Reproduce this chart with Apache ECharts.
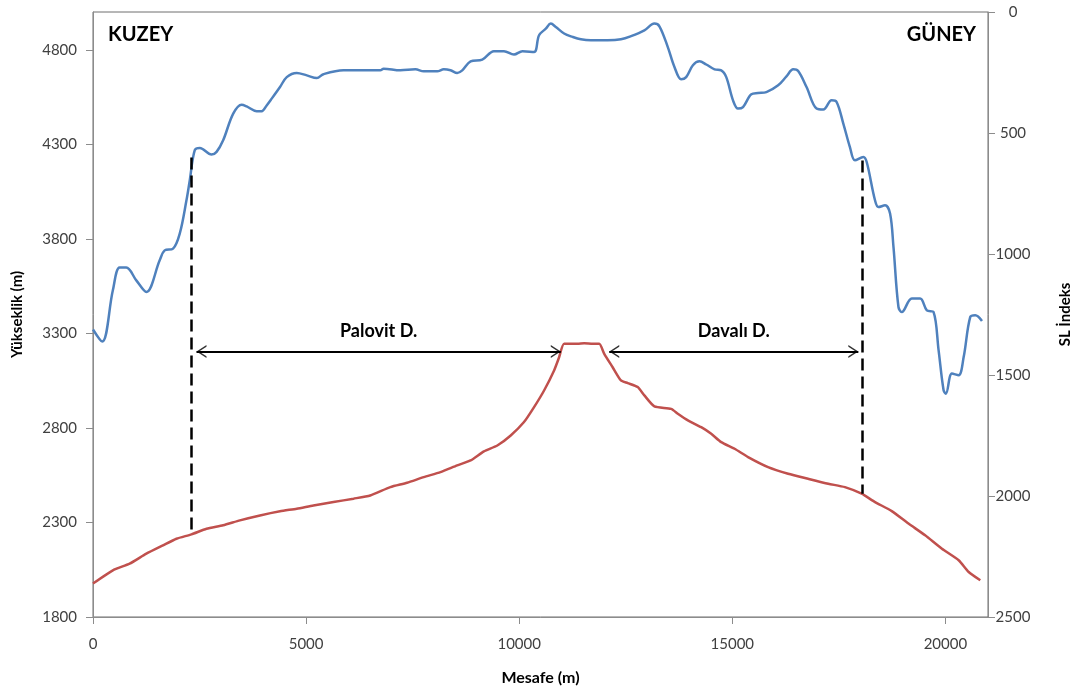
<!DOCTYPE html>
<html>
<head>
<meta charset="utf-8">
<script src="https://cdn.jsdelivr.net/npm/echarts@6/dist/echarts.min.js"></script>
<style>
html,body{margin:0;padding:0;background:#fff;}
#chart{width:1079px;height:693px;}
</style>
</head>
<body>
<div id="chart"></div>
<script>
// SL index profile (blue, right inverted axis)
const slDistance = [0,216,466,624,781,1016,1252,1565,1682,1878,2035,2193,2271,2388,2506,2781,2899,3054,3290,3487,3605,3840,3958,4075,4193,4388,4546,4781,5017,5252,5407,5878,6741,6819,7212,7565,7760,8076,8231,8389,8546,8664,8860,9134,9407,9643,9878,10076,10349,10466,10624,10742,10859,11054,11252,11447,11683,12076,12388,12624,12937,13172,13290,13487,13643,13800,13918,14076,14231,14389,14584,14741,14859,15017,15134,15252,15448,15605,15800,16076,16271,16429,16546,16742,16977,17135,17330,17448,17605,17760,17878,18076,18154,18349,18429,18584,18702,18782,18899,18977,19212,19408,19565,19723,19841,19958,20012,20153,20311,20429,20584,20702,20859];
const slIndex = [1312,1362,1150,1056,1056,1109,1157,1026,985,978,916,778,695,571,562,589,578,530,420,383,390,410,410,386,358,310,269,252,262,273,257,241,241,234,241,237,245,245,237,241,252,241,204,197,162,162,176,162,165,96,69,48,62,89,103,113,117,117,113,100,76,48,59,145,227,278,269,220,204,217,237,241,269,365,399,393,340,335,331,303,266,237,244,310,399,403,365,372,461,558,613,599,620,778,806,799,833,971,1219,1240,1184,1184,1233,1240,1398,1563,1577,1494,1501,1426,1260,1253,1277];

// Elevation profile (red, left axis)
const elevDistance = [0,466,859,1252,1642,1958,2311,2664,3054,3447,3918,4388,4781,5172,5643,6113,6506,6977,7370,7760,8153,8546,8859,9172,9487,9801,10113,10349,10584,10819,10937,11054,11370,11525,11723,11878,11996,12193,12388,12546,12781,12937,13172,13565,13722,13958,14271,14506,14741,15054,15370,15840,16311,16782,17252,17643,18035,18349,18742,19134,19525,19919,20312,20547,20819];
const elevation = [1977,2047,2082,2135,2179,2214,2237,2267,2285,2311,2337,2359,2373,2390,2408,2426,2443,2487,2510,2540,2566,2602,2628,2676,2707,2760,2831,2910,2998,3104,3174,3245,3245,3248,3245,3245,3192,3121,3051,3037,3016,2972,2914,2901,2875,2840,2804,2769,2725,2690,2646,2593,2558,2531,2505,2487,2452,2408,2360,2294,2232,2161,2100,2038,1994];

// Annotations (data units)
const dividerX = [2311, 18050];
const dividerTop = [4230, 4214];       // elevation units at the SL curve
const dividerBottom = [2237, 2452];
const riverNames = ['Palovit D.', 'Davalı D.'];
const riverStart = [2428, 12113];
const riverEnd = [10976, 17958];
const arrowLevel = 3204;

const xTicks = {min: 0, max: 21000, interval: 5000};
const leftTicks = {min: 1800, max: 5000, interval: 500};
const rightTicks = {min: 0, max: 2500, interval: 500};

const FONT = 'Lato, "Open Sans", sans-serif';
const axisGray = '#8c8c8c';
const labelColor = '#404040';
const plain = v => String(v);

const chart = echarts.init(document.getElementById('chart'), null, {renderer: 'canvas'});

const zip = (a, b) => a.map((v, i) => [v, b[i]]);

const chevLeft = 'path://M10,0 L0,6.5 L10,13 L10,11.2 L2.6,6.5 L10,1.8 Z';
const chevRight = 'path://M0,0 L10,6.5 L0,13 L0,11.2 L7.4,6.5 L0,1.8 Z';

const option = {
  animation: false,
  backgroundColor: '#ffffff',
  grid: {left: 93, right: 91, top: 12, bottom: 76, containLabel: false, outerBoundsMode: 'none',
         show: true, borderColor: '#6e6e6e', borderWidth: 1, backgroundColor: 'transparent'},
  xAxis: {
    type: 'value', min: xTicks.min, max: xTicks.max, interval: xTicks.interval,
    name: 'Mesafe (m)', nameLocation: 'middle', nameGap: 53,
    nameTextStyle: {fontFamily: FONT, fontWeight: 'bold', fontSize: 16, color: '#000'},
    axisLine: {show: true, onZero: false, lineStyle: {color: axisGray, width: 1}},
    axisTick: {show: true, inside: false, length: 7, lineStyle: {color: axisGray}},
    axisLabel: {fontFamily: FONT, fontSize: 15, color: labelColor, margin: 20, showMaxLabel: false, formatter: plain},
    splitLine: {show: false}
  },
  yAxis: [
    {
      type: 'value', position: 'left', min: leftTicks.min, max: leftTicks.max, interval: leftTicks.interval,
      name: 'Yükseklik (m)', nameLocation: 'middle', nameGap: 68, nameRotate: 90,
      nameTextStyle: {fontFamily: FONT, fontWeight: 'bold', fontSize: 15, color: '#000'},
      axisLine: {show: true, lineStyle: {color: axisGray, width: 1}},
      axisTick: {show: true, length: 7, lineStyle: {color: axisGray}},
      axisLabel: {fontFamily: FONT, fontSize: 15, color: labelColor, margin: 16, showMaxLabel: false, formatter: plain},
      splitLine: {show: false}
    },
    {
      type: 'value', position: 'right', inverse: true, min: rightTicks.min, max: rightTicks.max, interval: rightTicks.interval,
      name: 'SL İndeks', nameLocation: 'middle', nameGap: 70, nameRotate: 90,
      nameTextStyle: {fontFamily: FONT, fontWeight: 'bold', fontSize: 15, color: '#000'},
      axisLine: {show: true, lineStyle: {color: axisGray, width: 1}},
      axisTick: {show: true, length: 7, lineStyle: {color: axisGray}},
      axisLabel: {fontFamily: FONT, fontSize: 15, color: labelColor, margin: 25, align: 'center', formatter: plain},
      splitLine: {show: false}
    }
  ],
  series: [
    {
      name: 'SL İndeks', type: 'line', yAxisIndex: 1, data: zip(slDistance, slIndex),
      showSymbol: false, smooth: 0.35, lineStyle: {color: '#4f81bd', width: 2.5}, z: 3
    },
    {
      name: 'Yükseklik', type: 'line', yAxisIndex: 0, data: zip(elevDistance, elevation),
      showSymbol: false, smooth: 0.2, lineStyle: {color: '#c0504d', width: 2.5}, z: 3,
      markLine: {
        silent: true, symbol: ['none', 'none'], animation: false,
        data: [
          ...dividerX.map((x, i) => [
            {coord: [x, dividerTop[i]], lineStyle: {type: [12, 6], color: '#000', width: 2.5}, label: {show: false}},
            {coord: [x, dividerBottom[i]]}
          ]),
          ...riverNames.map((n, i) => [
            {name: n, coord: [riverStart[i], arrowLevel], lineStyle: {type: 'solid', color: '#000', width: 2},
             label: {show: true, position: 'middle', formatter: '{b}', distance: 11,
                     fontFamily: FONT, fontWeight: 'bold', fontSize: 18, color: '#000'}},
            {coord: [riverEnd[i], arrowLevel]}
          ])
        ]
      }
    },
    {
      type: 'scatter', yAxisIndex: 0, silent: true, z: 4,
      data: riverStart.map(x => [x, arrowLevel]),
      symbol: chevLeft, symbolSize: [10, 13], symbolOffset: [5, 0],
      itemStyle: {color: '#000'}
    },
    {
      type: 'scatter', yAxisIndex: 0, silent: true, z: 4,
      data: riverEnd.map(x => [x, arrowLevel]),
      symbol: chevRight, symbolSize: [10, 13], symbolOffset: [-5, 0],
      itemStyle: {color: '#000'}
    }
  ],
  graphic: [
    {type: 'text', left: 108, top: 25, style: {text: 'KUZEY', fontFamily: FONT, fontWeight: 'bold', fontSize: 20, fill: '#000'}},
    {type: 'text', right: 103, top: 25, style: {text: 'GÜNEY', fontFamily: FONT, fontWeight: 'bold', fontSize: 20, fill: '#000'}}
  ]
};

chart.setOption(option);
</script>
</body>
</html>
